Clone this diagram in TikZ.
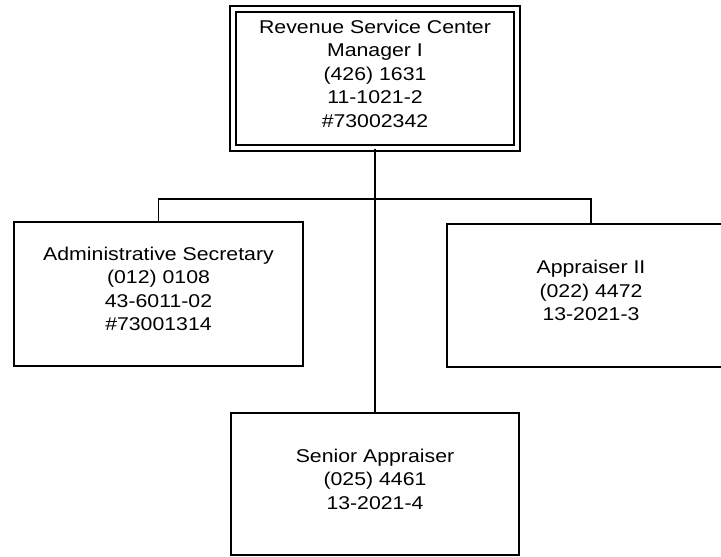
\documentclass[tikz,border=0pt]{standalone}
\usepackage{fontspec}
\setmainfont[FakeStretch=1.15]{Liberation Sans}
\begin{document}
\begin{tikzpicture}[x=1pt,y=-1pt,
  box/.style={draw=black, line width=1.2pt, fill=white, inner sep=0pt,
    align=center, font=\fontsize{18.5}{23.5}\selectfont},
  link/.style={draw=black, line width=1.2pt}]
  \useasboundingbox (0,0) rectangle (721,557);
  \clip (0,0) rectangle (721,557);
  % managing position with double border
  \node[box, double, double distance=4.8pt, minimum width=284pt, minimum height=139pt]
    (mgr) at (375,78.5) {Revenue Service Center\\Manager I\\(426) 1631\\11-1021-2\\\#73002342\rule[-10pt]{0pt}{1pt}};
  \node[box, minimum width=289pt, minimum height=144pt]
    (sec) at (158.5,294) {Administrative Secretary\\(012) 0108\\43-6011-02\\\#73001314\rule[-10pt]{0pt}{1pt}};
  \node[box, minimum width=288pt, minimum height=143pt]
    (app) at (591,295.5) {Appraiser II\\(022) 4472\\13-2021-3\rule[-10pt]{0pt}{1pt}};
  \node[box, minimum width=288pt, minimum height=142pt]
    (sen) at (375,484) {Senior Appraiser\\(025) 4461\\13-2021-4\rule[-10pt]{0pt}{1pt}};
  \coordinate (hub) at (375,199);
  % reporting lines
  \draw[link] (mgr.south) -- (sen.north);
  \draw[link] (sec.north) |- (hub) -| (app.north);
\end{tikzpicture}
\end{document}
